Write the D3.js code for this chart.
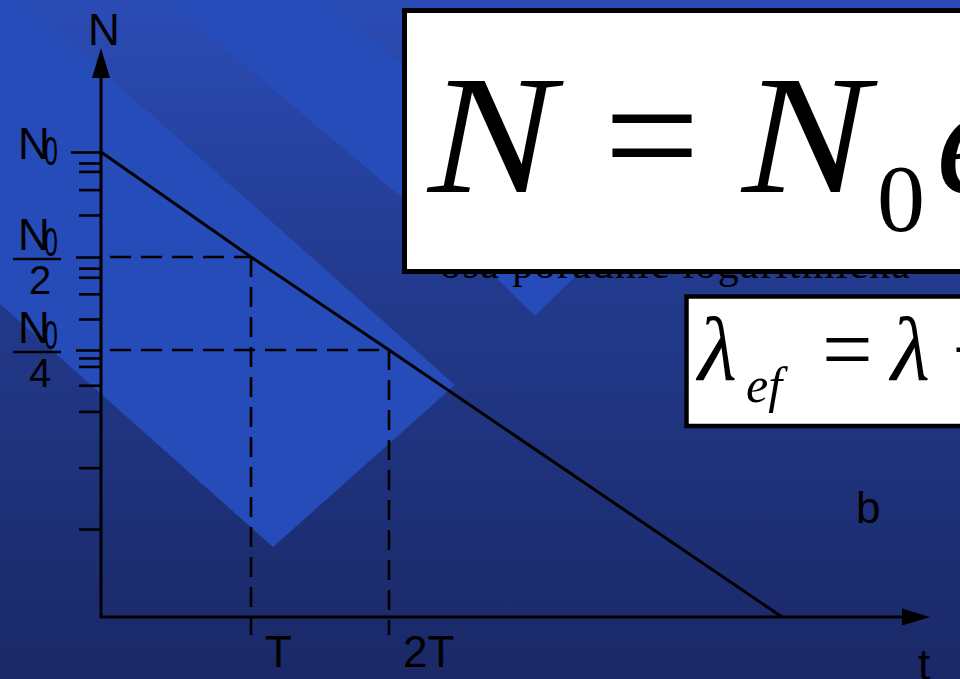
<!DOCTYPE html>
<html>
<head>
<meta charset="utf-8">
<script src="https://cdn.jsdelivr.net/npm/d3@7"></script>
<style>
  body { margin: 0; overflow: hidden; background: #1a2966; }
  svg { display: block; }
</style>
</head>
<body>
<div id="chart"></div>
<script>
// decay curve N = N0 * 2^(-t/T), t in units of T, N in units of N0
const decayT = [0, 1, 2, 5];
const decayN = [1, 0.5, 0.25, 1 / 32];

// marked levels on the N axis and their denominators
const levelValues = [1, 0.5, 0.25];
const levelDenoms = ["", "2", "4"];

// marked times on the t axis
const timeValues = [1, 2];
const timeLabels = ["T", "2T"];

// small ticks of the (logarithmic) N axis
const minorTicks = [0.93, 0.88, 0.78, 0.66, 0.46, 0.43, 0.38, 0.315,
                    0.235, 0.22, 0.19, 0.155, 0.1, 0.062];

let width = 960, height = 679;
let sans = "'Liberation Sans', Arial, sans-serif";
let serif = "'Liberation Serif', 'Times New Roman', serif";

let svg = d3.select("#chart")
    .append("svg")
    .attr("width", width)
    .attr("height", height);

// ---- slide background: gradient plus lighter diagonal bands ----
let grad = svg.append("defs").append("linearGradient")
    .attr("id", "bg")
    .attr("x1", 0).attr("y1", 0).attr("x2", 0).attr("y2", 1);
grad.append("stop").attr("offset", "0%").attr("stop-color", "#2b4cb6");
grad.append("stop").attr("offset", "45%").attr("stop-color", "#22398b");
grad.append("stop").attr("offset", "100%").attr("stop-color", "#1a2866");

svg.append("rect")
    .attr("width", width)
    .attr("height", height)
    .attr("fill", "url(#bg)");

let bands = [
    [[0, 0], [23, 0], [455, 385], [273, 547], [0, 304]],
    [[167, 0], [327, 0], [403, 66], [640, 240], [580, 272], [535, 316], [490, 272]]
];
svg.selectAll("polygon.band")
    .data(bands)
    .enter()
    .append("polygon")
    .attr("class", "band")
    .attr("points", d => d.map(p => p.join(",")).join(" "))
    .attr("fill", "#254cb9");

// ---- scales (hand-drawn slide: segments are not evenly spaced) ----
let x = d3.scaleLinear()
    .domain(decayT)
    .range([101, 251, 389, 782]);

let y = d3.scaleLog()
    .domain([1 / 32, 0.25, 0.5, 1])
    .range([617, 350, 257, 152]);

let x0 = x(0), yBase = y(1 / 32);
let yTop = 48, xEnd = 930;

// ---- ticks on the N axis ----
let minorAxis = svg.append("g")
    .attr("transform", `translate(${x0},0)`)
    .call(d3.axisLeft(y).tickValues(minorTicks).tickSize(22).tickFormat(""));
minorAxis.select(".domain").remove();

let majorAxis = svg.append("g")
    .attr("transform", `translate(${x0},0)`)
    .call(d3.axisLeft(y).tickValues(levelValues).tickSize(25).tickFormat(""));
majorAxis.select(".domain").remove();
majorAxis.selectAll(".tick line")
    .attr("x2", d => d === 1 ? -30 : -25);

svg.selectAll(".tick line")
    .attr("stroke", "black")
    .attr("stroke-width", 2.6);

// ---- dashed guide lines ----
let guides = timeValues.map((t, i) => ({ t: t, n: levelValues[i + 1] }));

svg.selectAll("line.hguide")
    .data(guides)
    .enter()
    .append("line")
    .attr("x1", x0)
    .attr("x2", d => x(d.t))
    .attr("y1", d => y(d.n))
    .attr("y2", d => y(d.n))
    .attr("stroke", "black")
    .attr("stroke-width", 2.6)
    .attr("stroke-dasharray", "21,10")
    .attr("stroke-dashoffset", 22);

svg.selectAll("line.vguide")
    .data(guides)
    .enter()
    .append("line")
    .attr("x1", d => x(d.t))
    .attr("x2", d => x(d.t))
    .attr("y1", d => y(d.n))
    .attr("y2", yBase + 18)
    .attr("stroke", "black")
    .attr("stroke-width", 2.6)
    .attr("stroke-dasharray", "20,10");

// ---- axes with arrow heads ----
svg.append("line")
    .attr("x1", x0).attr("y1", yBase)
    .attr("x2", x0).attr("y2", yTop + 28)
    .attr("stroke", "black")
    .attr("stroke-width", 3);

svg.append("line")
    .attr("x1", x0 - 1.5).attr("y1", yBase)
    .attr("x2", xEnd - 26).attr("y2", yBase)
    .attr("stroke", "black")
    .attr("stroke-width", 3);

svg.append("polygon")
    .attr("points", `${x0},${yTop} ${x0 - 9},${yTop + 30} ${x0 + 9},${yTop + 30}`)
    .attr("fill", "black");

svg.append("polygon")
    .attr("points", `${xEnd},${yBase} ${xEnd - 28},${yBase - 8.5} ${xEnd - 28},${yBase + 8.5}`)
    .attr("fill", "black");

// ---- decay line ----
let line = d3.line()
    .x((d, i) => x(decayT[i]))
    .y(d => y(d));

svg.append("path")
    .datum(decayN)
    .attr("d", line)
    .attr("fill", "none")
    .attr("stroke", "black")
    .attr("stroke-width", 3);

// ---- axis labels ----
svg.append("text")
    .attr("x", x0 + 3)
    .attr("y", yTop - 3)
    .attr("text-anchor", "middle")
    .attr("font-family", sans)
    .attr("font-size", 44)
    .text("N");

svg.append("text")
    .attr("x", xEnd - 6)
    .attr("y", height + 1)
    .attr("text-anchor", "middle")
    .attr("font-family", sans)
    .attr("font-size", 44)
    .text("t");

svg.selectAll("text.tlabel")
    .data(timeValues)
    .enter()
    .append("text")
    .attr("class", "tlabel")
    .attr("x", d => x(d) + 14)
    .attr("y", yBase + 50)
    .attr("font-family", sans)
    .attr("font-size", 44)
    .text((d, i) => timeLabels[i]);

svg.append("text")
    .attr("x", 856)
    .attr("y", 523)
    .attr("font-family", sans)
    .attr("font-size", 44)
    .text("b");

// ---- N0, N0/2, N0/4 labels ----
let levelG = svg.selectAll("g.level")
    .data(levelValues)
    .enter()
    .append("g")
    .attr("class", "level")
    .attr("font-family", sans);

levelG.append("text")
    .attr("x", 18)
    .attr("y", (d, i) => levelDenoms[i] ? y(d) - 7 : y(d) + 7)
    .attr("font-size", 44)
    .text("N");

levelG.append("text")
    .attr("transform", (d, i) => {
        let b = levelDenoms[i] ? y(d) - 1 : y(d) + 13;
        return `translate(44,${b}) scale(0.62,1)`;
    })
    .attr("font-size", 40)
    .text("0");

levelG.filter((d, i) => levelDenoms[i] !== "")
    .append("line")
    .attr("x1", 13).attr("x2", 61)
    .attr("y1", d => y(d) + 2)
    .attr("y2", d => y(d) + 2)
    .attr("stroke", "black")
    .attr("stroke-width", 2.6);

levelG.filter((d, i) => levelDenoms[i] !== "")
    .append("text")
    .attr("x", 40)
    .attr("y", d => y(d) + 37)
    .attr("text-anchor", "middle")
    .attr("font-size", 40)
    .text(d => levelDenoms[levelValues.indexOf(d)]);

// ---- text hidden under the formula box ----
svg.append("text")
    .attr("x", 440)
    .attr("y", 278)
    .attr("font-family", serif)
    .attr("font-size", 42)
    .attr("textLength", 470)
    .text("osa pořadnic logaritmická");

// ---- formula boxes ----
svg.append("rect")
    .attr("x", 404.5).attr("y", 10.5)
    .attr("width", 700).attr("height", 261)
    .attr("fill", "white")
    .attr("stroke", "black")
    .attr("stroke-width", 5);

let f1 = svg.append("g").attr("font-family", serif);
f1.append("text").attr("transform", "translate(428,192) scale(1.12,1)")
    .attr("font-size", 170).attr("font-style", "italic").text("N");
f1.append("text").attr("x", 604).attr("y", 192)
    .attr("font-size", 170).text("=");
f1.append("text").attr("transform", "translate(742,192) scale(1.12,1)")
    .attr("font-size", 170).attr("font-style", "italic").text("N");
f1.append("text").attr("x", 877).attr("y", 231)
    .attr("font-size", 96).text("0");
f1.append("text").attr("x", 936).attr("y", 192)
    .attr("font-size", 165).attr("font-style", "italic").text("e");

svg.append("rect")
    .attr("x", 686.5).attr("y", 296.5)
    .attr("width", 400).attr("height", 129.5)
    .attr("fill", "white")
    .attr("stroke", "black")
    .attr("stroke-width", 4.5);

let f2 = svg.append("g").attr("font-family", serif);
f2.append("text").attr("x", 698).attr("y", 380)
    .attr("font-size", 90).attr("font-style", "italic").text("λ");
f2.append("text").attr("x", 746).attr("y", 402)
    .attr("font-size", 50).attr("font-style", "italic").text("ef");
f2.append("text").attr("x", 822).attr("y", 380)
    .attr("font-size", 90).text("=");
f2.append("text").attr("x", 891).attr("y", 380)
    .attr("font-size", 90).attr("font-style", "italic").text("λ");
f2.append("text").attr("x", 952).attr("y", 380)
    .attr("font-size", 90).text("+");
</script>
</body>
</html>
